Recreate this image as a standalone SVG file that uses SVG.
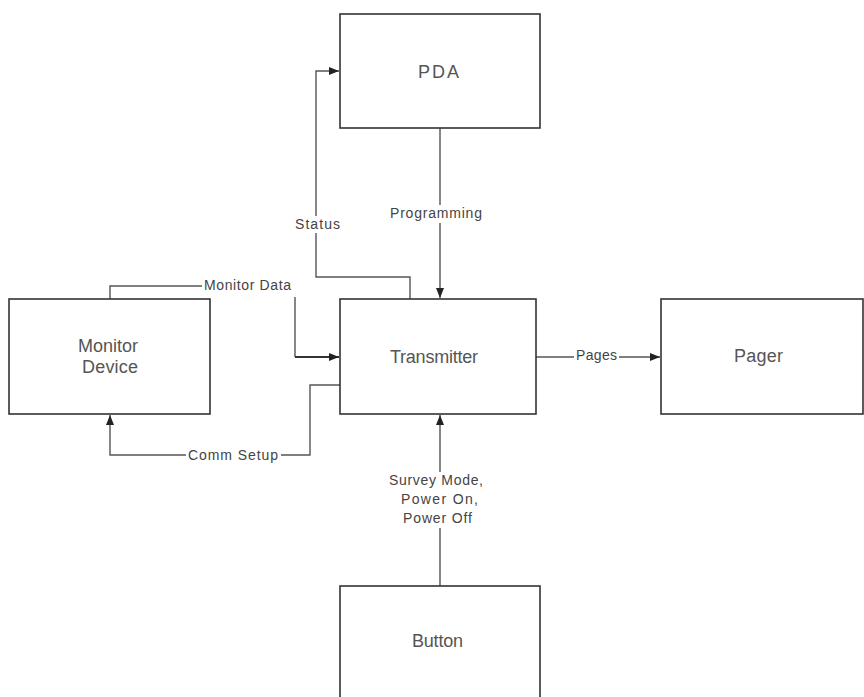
<svg xmlns="http://www.w3.org/2000/svg" width="864" height="697" viewBox="0 0 864 697">
<style>
.box{fill:#fff;stroke:#333;stroke-width:1.6}
.nt{font-family:"Liberation Sans",Arial,sans-serif;font-size:18px;fill:#555}
.lt{font-family:"Liberation Sans",Arial,sans-serif;font-size:14px;fill:#444}
.ln{fill:none;stroke:#555;stroke-width:1.4}
.bg{fill:#fff}
</style>
<defs>
<marker id="ah" viewBox="0 0 10 8" refX="10" refY="4" markerWidth="10" markerHeight="8" markerUnits="userSpaceOnUse" orient="auto">
<path d="M0,0 L10,4 L0,8 z" fill="#222"/>
</marker>
</defs>
<rect width="864" height="697" fill="#fff"/>
<g id="connectors">
<path class="ln" d="M410,299 V277 H316 V71 H339" marker-end="url(#ah)"/>
<path class="ln" d="M440,128 V298" marker-end="url(#ah)"/>
<path class="ln" d="M110,299 V286 H295 V357"/>
<path class="ln" d="M295,357 H339" style="stroke-width:2.2;stroke:#333" marker-end="url(#ah)"/>
<path class="ln" d="M340,385 H310 V455 H110 V415" marker-end="url(#ah)"/>
<path class="ln" d="M536,357 H660" marker-end="url(#ah)"/>
<path class="ln" d="M440,586 V415" marker-end="url(#ah)"/>
<g id="labels">
<rect class="bg" x="294" y="216" width="47" height="17"/>
<text class="lt" x="295" y="229" textLength="45" lengthAdjust="spacing">Status</text>
<rect class="bg" x="388" y="205" width="96" height="18"/>
<text class="lt" x="390" y="218" textLength="92" lengthAdjust="spacing">Programming</text>
<rect class="bg" x="202" y="277" width="96" height="20"/>
<text class="lt" x="204" y="290" textLength="87" lengthAdjust="spacing">Monitor Data</text>
<rect class="bg" x="186" y="447" width="95" height="17"/>
<text class="lt" x="188" y="460" textLength="90" lengthAdjust="spacing">Comm Setup</text>
<rect class="bg" x="574" y="348" width="45" height="17"/>
<text class="lt" x="576" y="360" textLength="41" lengthAdjust="spacing">Pages</text>
<rect class="bg" x="386" y="472" width="100" height="56"/>
<text class="lt" x="389" y="485" textLength="94" lengthAdjust="spacing">Survey Mode,</text>
<text class="lt" x="401" y="504" textLength="77" lengthAdjust="spacing">Power On,</text>
<text class="lt" x="403" y="523" textLength="69" lengthAdjust="spacing">Power Off</text>
</g>
</g>
<g id="pda">
<rect class="box" x="340" y="14" width="200" height="114"/>
<text class="nt" x="418" y="78" textLength="41" lengthAdjust="spacing">PDA</text>
</g>
<g id="transmitter">
<rect class="box" x="340" y="299" width="196" height="115"/>
<text class="nt" x="390" y="363" textLength="88" lengthAdjust="spacing">Transmitter</text>
</g>
<g id="pager">
<rect class="box" x="661" y="299" width="202" height="115"/>
<text class="nt" x="734" y="362" textLength="49" lengthAdjust="spacing">Pager</text>
</g>
<g id="monitor">
<rect class="box" x="9" y="299" width="201" height="115"/>
<text class="nt" x="78" y="352" textLength="60" lengthAdjust="spacing">Monitor</text>
<text class="nt" x="82" y="373" textLength="56" lengthAdjust="spacing">Device</text>
</g>
<g id="button">
<rect class="box" x="340" y="586" width="200" height="120"/>
<text class="nt" x="412" y="647" textLength="51" lengthAdjust="spacing">Button</text>
</g>
</svg>
